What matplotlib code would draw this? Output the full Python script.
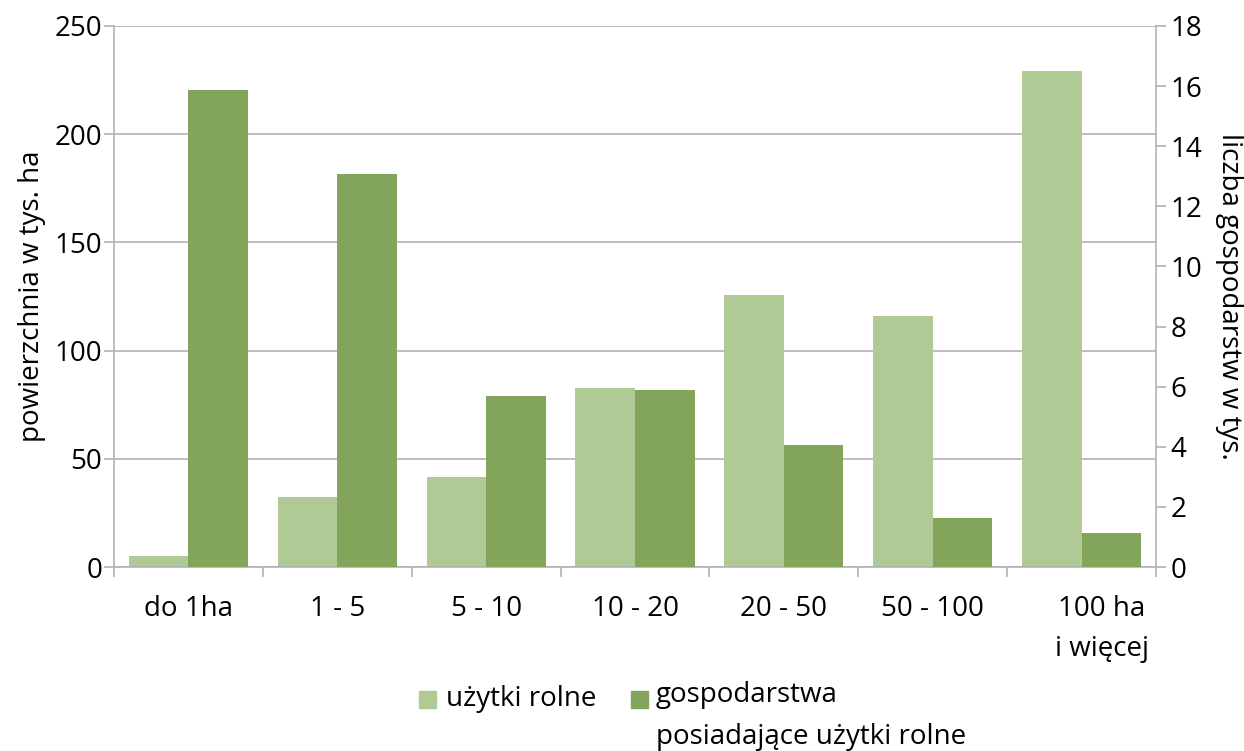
import numpy as np
import matplotlib
matplotlib.use("Agg")
import matplotlib.pyplot as plt
from matplotlib.patches import Rectangle
from matplotlib.transforms import ScaledTranslation

# ---------------------------------------------
# Data
# ---------------------------------------------

categories = ["do 1ha", "1 - 5", "5 - 10", "10 - 20", "20 - 50", "50 - 100", "100 ha\ni więcej"]
area = [5.0, 32.2, 41.5, 82.7, 125.8, 116.1, 229.0]          # tys. ha (left axis)
farms = [15.86, 13.06, 5.69, 5.89, 4.06, 1.62, 1.12]          # tys. (right axis)

series_names = ["użytki rolne", "gospodarstwa\nposiadające użytki rolne"]
light = "#B0CA96"
dark = "#83A55B"
grey = "#B3B3B3"

plt.rcParams["font.family"] = ["Open Sans", "DejaVu Sans"]
plt.rcParams["font.size"] = 20

# ---------------------------------------------
# Figure
# ---------------------------------------------

fig = plt.figure(figsize=(12.44, 7.51), dpi=100)
ax = fig.add_axes([114 / 1244, 1 - 567 / 751, 1042 / 1244, 541 / 751])
ax2 = ax.twinx()

x = np.arange(len(categories))
w = 0.4
ax.bar(x - w / 2, area, width=w, color=light, zorder=2)
ax2.bar(x + w / 2, farms, width=w, color=dark, zorder=2)

ax.set_xlim(-0.5, len(categories) - 0.5)
ax.set_ylim(0, 250)
ax2.set_ylim(0, 18)
ax.set_yticks(np.arange(0, 251, 50))
ax2.set_yticks(np.arange(0, 19, 2))

ax.set_axisbelow(True)
ax.yaxis.grid(True, color=grey, linewidth=1.2)

# category ticks between groups, labels in the middle
ax.set_xticks(np.arange(-0.5, len(categories), 1))
ax.set_xticklabels([])
ax.set_xticks(x, minor=True)
ax.set_xticklabels(categories, minor=True)
ax.tick_params(axis="x", which="major", length=7.5, width=1.2, color=grey, direction="out")
ax.tick_params(axis="x", which="minor", length=0, pad=20)
for lbl in ax.get_xticklabels(minor=True):
    lbl.set_linespacing(1.6)
    lbl.set_verticalalignment("top")
last = ax.get_xticklabels(minor=True)[-1]
last.set_transform(last.get_transform() + ScaledTranslation(0.2, 0, fig.dpi_scale_trans))

ax.tick_params(axis="y", length=7.5, width=1.2, color=grey, pad=1)
ax2.tick_params(axis="y", length=7.5, width=1.2, color=grey, pad=3)

for s in ["top", "right"]:
    ax.spines[s].set_visible(False)
for s in ["left", "bottom"]:
    ax.spines[s].set_color(grey)
    ax.spines[s].set_linewidth(1.2)
for s in ["top", "left", "bottom"]:
    ax2.spines[s].set_visible(False)
ax2.spines["right"].set_color(grey)
ax2.spines["right"].set_linewidth(1.2)

ax.set_ylabel("powierzchnia w tys. ha", va="center")
ax.yaxis.set_label_coords(-0.079, 0.5)
ax2.set_ylabel("liczba gospodarstw w tys.", rotation=-90, va="center")
ax2.yaxis.set_label_coords(1.07, 0.5)

# ---------------------------------------------
# Legend
# ---------------------------------------------

W, H = 1244, 751
fig.patches.append(Rectangle((419 / W, 1 - 708 / H), 17 / W, 17 / H,
                             transform=fig.transFigure, color=light))
fig.text(446 / W, 1 - 699 / H, series_names[0], va="center", ha="left")
fig.patches.append(Rectangle((631 / W, 1 - 708 / H), 17 / W, 17 / H,
                             transform=fig.transFigure, color=dark))
fig.text(656 / W, 1 - 681 / H, series_names[1], va="top", ha="left", linespacing=1.65)

fig.savefig("out.png", dpi=100)
